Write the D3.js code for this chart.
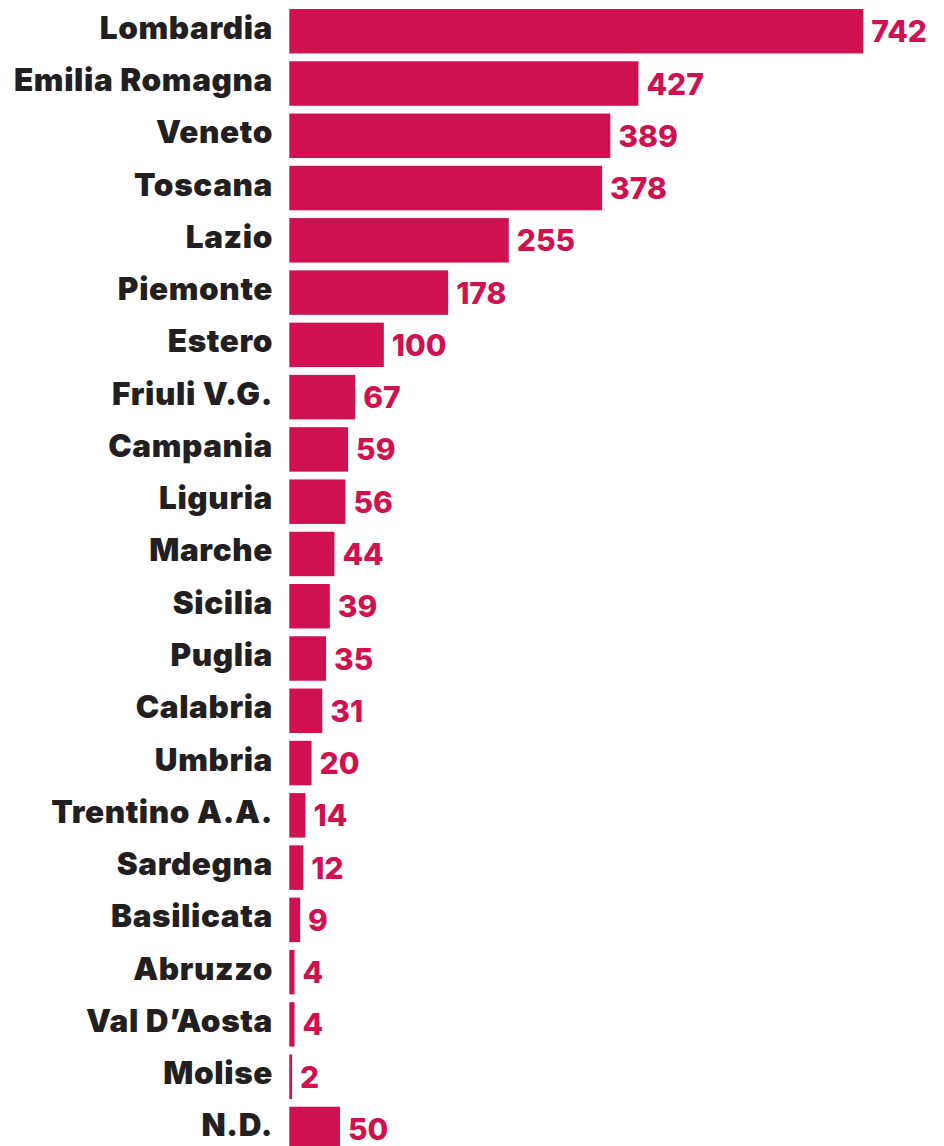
<!DOCTYPE html>
<html>
<head>
<meta charset="utf-8">
<script src="https://cdn.jsdelivr.net/npm/d3@7"></script>
<style>
  html, body { margin: 0; padding: 0; background: #ffffff; overflow: hidden; }
  svg { display: block; }
</style>
</head>
<body>
<svg id="chart" width="944" height="1146"></svg>
<script>
const regions = ["Lombardia", "Emilia Romagna", "Veneto", "Toscana", "Lazio", "Piemonte", "Estero",
  "Friuli V.G.", "Campania", "Liguria", "Marche", "Sicilia", "Puglia", "Calabria", "Umbria",
  "Trentino A.A.", "Sardegna", "Basilicata", "Abruzzo", "Val D\u2019Aosta", "Molise", "N.D."];
const counts = [742, 427, 389, 378, 255, 178, 100, 67, 59, 56, 44, 39, 35, 31, 20, 14, 12, 9, 4, 4, 2, 50];

const W = 944, H = 1146;
const barLeft = 289.3;
const BAR = "#cf1150";
const INK = "#231f20";

const svg = d3.select("#chart");

const y = d3.scaleBand()
  .domain(regions)
  .range([9, 1151.2])
  .paddingInner(0.149)
  .paddingOuter(0);

const x = d3.scalePow()
  .exponent(0.9)
  .domain([0, 742])
  .range([barLeft, barLeft + 574]);

const data = regions.map((r, i) => ({ region: r, value: counts[i] }));

const rows = svg.selectAll("g.row").data(data).join("g").attr("class", "row");

rows.append("rect")
  .attr("x", x(0))
  .attr("y", d => y(d.region))
  .attr("width", d => Math.max(2.5, x(d.value) - x(0)))
  .attr("height", y.bandwidth())
  .attr("fill", BAR);

rows.append("text")
  .attr("x", 273)
  .attr("y", d => y(d.region) + y.bandwidth() / 2 + 7.5)
  .attr("text-anchor", "end")
  .attr("font-family", "Inter, 'Noto Sans', sans-serif")
  .attr("font-weight", 900)
  .attr("font-size", 31.5)
  .attr("letter-spacing", 0.6)
  .attr("fill", INK)
  .text(d => d.region);

rows.append("text")
  .attr("x", d => Math.max(x(d.value), x(0) + 2.5) + 8)
  .attr("y", d => y(d.region) + y.bandwidth() / 2 + 11)
  .attr("text-anchor", "start")
  .attr("font-family", "Inter, 'Open Sans', sans-serif")
  .attr("font-weight", 800)
  .attr("font-size", 30)
  .attr("fill", BAR)
  .text(d => d.value);
</script>
</body>
</html>
